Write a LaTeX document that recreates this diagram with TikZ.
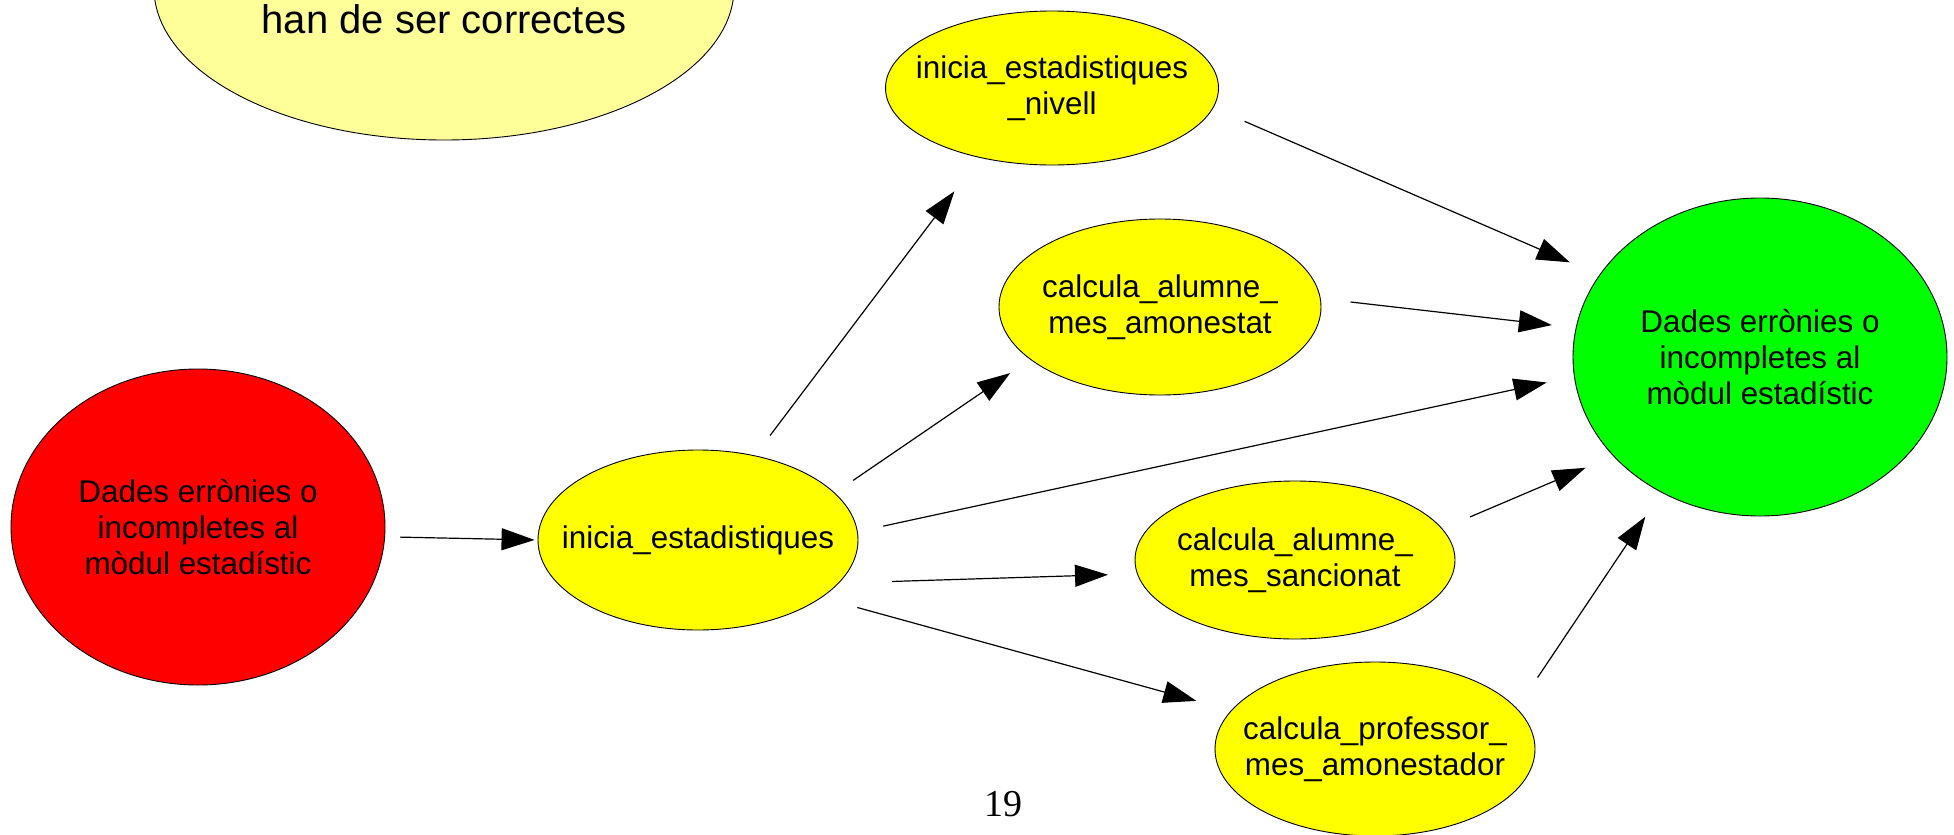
\documentclass[tikz,border=0pt]{standalone}
\usepackage{fontspec}
\setmainfont{Liberation Sans}
\newfontfamily\paginafont{Liberation Serif}
\usetikzlibrary{arrows.meta,shapes.geometric}
\definecolor{groc}{HTML}{FFFF00}
\definecolor{grocpal}{HTML}{FFFF99}
\definecolor{vermell}{HTML}{FF0000}
\definecolor{verd}{HTML}{00FF00}

\begin{document}
\begin{tikzpicture}
  [x=1pt,y=-1pt,every node/.style={ellipse,draw,line width=0.9pt,inner sep=0pt,inner xsep=-60pt,
     align=center,font=\fontsize{31.4}{36}\selectfont},
   flux/.style={-{Triangle[length=33pt,width=22pt]},line width=1.2pt},
   rotul/.style={draw=none,rectangle,inner sep=0pt,anchor=base}]
  \useasboundingbox (0,0) rectangle (1954,835);

  % premissa (tallada a dalt)
  \node[fill=grocpal,minimum width=580pt,minimum height=304pt] (premisa) at (444,-12) {};
  \node[rotul,font=\fontsize{40}{46}\selectfont] (premisaText) at (444,33) {han de ser correctes};

  \node[fill=vermell,minimum width=374pt,minimum height=316pt] (dades) at (198,527) {Dades errònies o\\incompletes al\\mòdul estadístic};
  \node[fill=groc,minimum width=320pt,minimum height=180pt] (inicia) at (698,540) {inicia\_estadistiques};
  \node[fill=groc,minimum width=333pt,minimum height=154pt] (nivell) at (1052,88) {inicia\_estadistiques\\\_nivell};
  \node[fill=groc,minimum width=322pt,minimum height=176pt] (amonestat) at (1160,307) {calcula\_alumne\_\\mes\_amonestat};
  \node[fill=groc,minimum width=320pt,minimum height=158pt] (sancionat) at (1295,560) {calcula\_alumne\_\\mes\_sancionat};
  \node[fill=groc,minimum width=320pt,minimum height=174pt] (professor) at (1375,749) {calcula\_professor\_\\mes\_amonestador};
  \node[fill=verd,minimum width=374pt,minimum height=318pt] (resultat) at (1760,357) {Dades errònies o\\incompletes al\\mòdul estadístic};

  \node[rotul,font=\paginafont\fontsize{38}{44}\selectfont] (pagina) at (1003,816) {19};

  \foreach \from/\fa/\to/\ta/\ini/\fin in {dades/-3/inicia/180/15/3,
      inicia/56/nivell/-136/25/42,inicia/19/amonestat/-158/22/24,
      inicia/3/resultat/-174/26/28,inicia/-17/sancionat/-175/53/29,
      inicia/-25/professor/165/37/36,nivell/-7/resultat/153/34/32,
      amonestat/3/resultat/171/30/24,sancionat/12/resultat/-146/30/30,
      professor/16/resultat/-126/37/29}
    \draw[flux,shorten <=\ini pt,shorten >=\fin pt] (\from.\fa) -- (\to.\ta);
\end{tikzpicture}
\end{document}
